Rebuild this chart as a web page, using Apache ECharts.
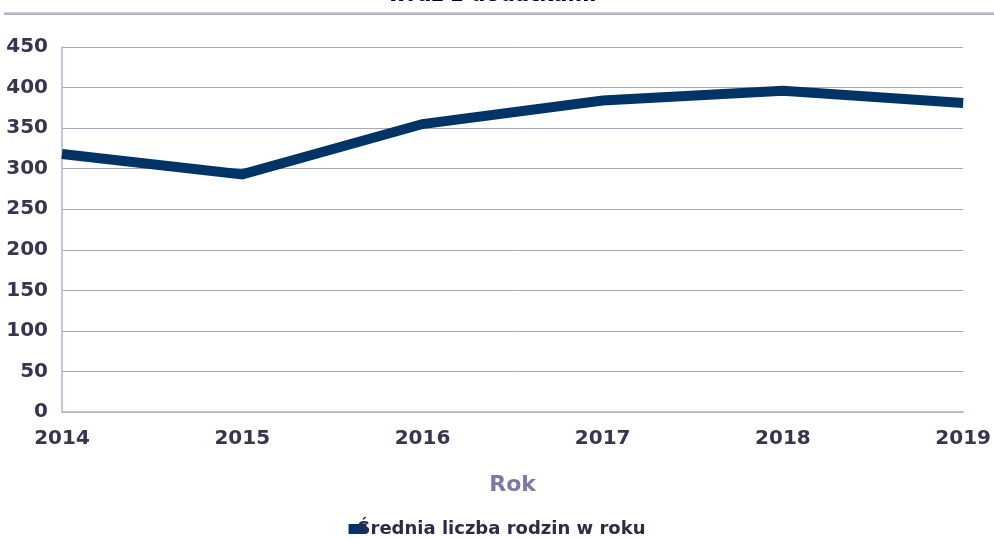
<!DOCTYPE html>
<html>
<head>
<meta charset="utf-8">
<script src="https://cdn.jsdelivr.net/npm/echarts@6/dist/echarts.min.js"></script>
<style>
  html, body { margin: 0; padding: 0; background: #ffffff; }
  #chart { width: 994px; height: 540px; }
</style>
</head>
<body>
<div id="chart"></div>
<script>
// Lata i średnia liczba rodzin
const years = ['2014', '2015', '2016', '2017', '2018', '2019'];
const avgFamilies = [318, 293, 355, 384, 396, 381];
const seriesName = 'Średnia liczba rodzin w roku';
const axisTitleX = 'Rok';
const titleText = 'wraz z dodatkami';

const FONT = '"DejaVu Sans", Verdana, sans-serif';
const labelColor = '#363650';

const chart = echarts.init(document.getElementById('chart'));
chart.setOption({
  backgroundColor: '#ffffff',
  animation: false,
  graphic: [
    {
      type: 'text',
      x: 492,
      y: 6,
      style: {
        text: titleText,
        font: 'bold 21px ' + FONT,
        fill: '#000000',
        align: 'center',
        verticalAlign: 'bottom'
      }
    },
    {
      type: 'rect',
      shape: { x: 4, y: 12, width: 990, height: 3 },
      style: {
        fill: new echarts.graphic.LinearGradient(0, 0, 0, 1, [
          { offset: 0, color: '#d4d4e0' },
          { offset: 1, color: '#a4a4bc' }
        ])
      }
    }
  ],
  legend: {
    bottom: -3,
    left: 'center',
    itemWidth: 18,
    itemHeight: 10,
    icon: 'rect',
    data: [seriesName],
    textStyle: { fontFamily: FONT, fontWeight: 'bold', fontSize: 18, color: '#2c2c48', padding: [0, 0, 0, -14] }
  },
  grid: { left: 62, right: 30, top: 47, bottom: 128, containLabel: false },
  xAxis: {
    type: 'category',
    data: years,
    boundaryGap: false,
    name: axisTitleX,
    nameLocation: 'middle',
    nameGap: 62,
    nameTextStyle: { fontFamily: FONT, fontWeight: 'bold', fontSize: 22, color: '#7a7aa2' },
    axisLine: { lineStyle: { color: '#b4b4cc', width: 1.5 } },
    axisTick: { show: false },
    axisLabel: { fontFamily: FONT, fontWeight: 'bold', fontSize: 20, color: labelColor, margin: 17 },
    splitLine: { show: false }
  },
  yAxis: {
    type: 'value',
    min: 0,
    max: 450,
    interval: 50,
    axisLine: { show: true, lineStyle: { color: '#b4b4cc', width: 1.5 } },
    axisTick: { show: false },
    axisLabel: { fontFamily: FONT, fontWeight: 'bold', fontSize: 20, color: labelColor, margin: 14 },
    splitLine: { lineStyle: { color: '#a8a8bc', width: 1 } }
  },
  series: [{
    name: seriesName,
    type: 'line',
    data: avgFamilies,
    symbol: 'none',
    lineStyle: { color: '#003366', width: 10, join: 'miter' },
    itemStyle: { color: '#003366' }
  }]
});
</script>
</body>
</html>
